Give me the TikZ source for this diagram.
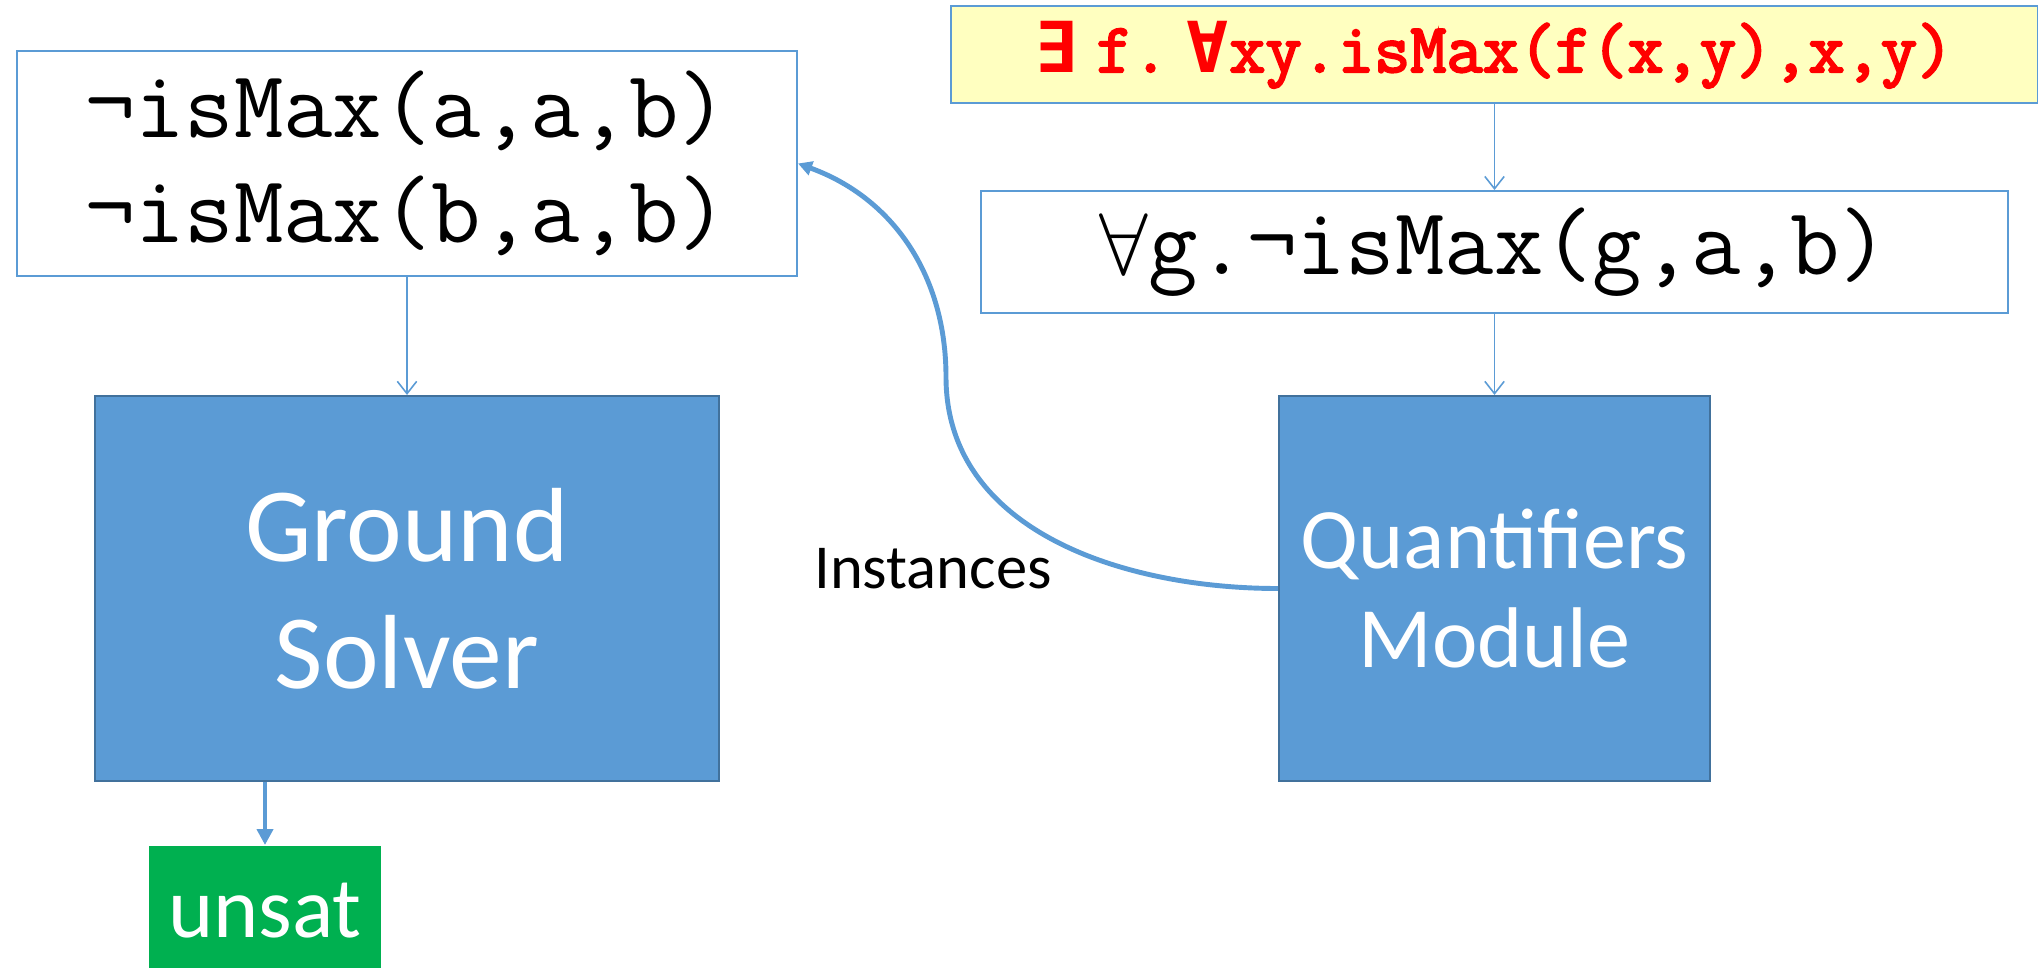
\documentclass[tikz,border=0pt]{standalone}
\usepackage{fontspec}
\setmainfont{Carlito}
\newfontfamily\symfont{DejaVu Sans Mono}
\newfontfamily\heavymono{Latin Modern Mono}[FakeBold=3]
\usetikzlibrary{arrows.meta,positioning}
\definecolor{boxblue}{RGB}{91,155,213}
\definecolor{edgeblue}{RGB}{65,113,156}
\definecolor{paleyellow}{RGB}{255,255,192}
\definecolor{satgreen}{RGB}{0,176,80}

\begin{document}
\begin{tikzpicture}[
    term/.style={draw=boxblue, line width=0.55pt, fill=white, inner sep=0pt, align=center,
      font=\ttfamily\fontsize{27.3}{29.9}\selectfont},
    module/.style={draw=edgeblue, line width=0.6pt, fill=boxblue, text=white, inner sep=0pt,
      align=center, minimum height=3.85cm},
    feed/.style={boxblue, line width=0.45pt, -{Straight Barb[length=3.5pt,width=5.5pt]}},
    result/.style={boxblue, line width=1.2pt, -{Triangle[length=4.5pt,width=4.5pt]}},
    feedback/.style={boxblue, line width=1.4pt, -{Triangle[length=4pt,width=4pt]}}
  ]
    \useasboundingbox (0,0) rectangle (20.38,-9.67);

    % Ground side
    \node[term, minimum width=7.80cm, minimum height=2.25cm] (lits) at (4.07,-1.635)
      {¬isMax(a,a,b)\\¬isMax(b,a,b)};
    \node[module, minimum width=6.24cm, font=\fontsize{30}{36}\selectfont] (ground) at (4.07,-5.885)
      {Ground\\Solver};
    \node[fill=satgreen, text=white, inner sep=0pt, minimum width=2.32cm, minimum height=1.3cm,
      anchor=north, font=\fontsize{24.5}{30}\selectfont] (unsat) at (2.65,-8.45) {unsat};

    % Quantifier side
    \node[term, fill=paleyellow, text=red, minimum width=10.87cm, minimum height=0.97cm,
      font=\heavymono\fontsize{20}{22}\selectfont] (goal) at (14.945,-0.545)
      {{\symfont\bfseries ∃}\hspace{0.26em}f.\hspace{0.26em}{\symfont\bfseries ∀}xy.isMax(f(x,y),x,y)};
    \node[term, minimum width=10.27cm, minimum height=1.22cm] (inst) at (14.945,-2.52)
      {$\forall$g.¬isMax(g,a,b)};
    \node[module, minimum width=4.31cm, font=\fontsize{24.5}{28}\selectfont] (quant) at (14.945,-5.885)
      {Quantifiers\\Module};

    % Arrows
    \draw[feed] (lits) -- (ground);
    \draw[feed] (goal) -- (inst);
    \draw[feed] (inst) -- (quant);
    \draw[result] (ground.south -| unsat.north) -- (unsat);

    % Instances fed back
    \coordinate (bend) at (9.46,-3.77);
    \draw[feedback] (quant.west) to[out=180, in=-90] (bend) to[out=90, in=-20] (lits.east);
    \node[font=\fontsize{17.8}{20}\selectfont] (lbl) at (9.33,-5.69) {Instances};
\end{tikzpicture}
\end{document}
